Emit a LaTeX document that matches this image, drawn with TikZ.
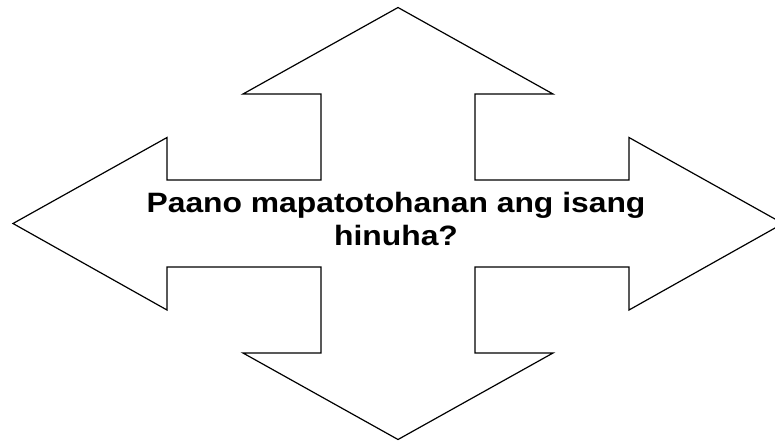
\documentclass[tikz,border=0pt]{standalone}
\usepackage{fontspec}
\setmainfont{Liberation Sans}[FakeStretch=1.137]
\usetikzlibrary{positioning}

\begin{document}
\begin{tikzpicture}[
    x=1pt, y=-1pt,
    crossarrow/.style={draw, line width=1.2pt, line join=miter, fill=white},
    fragetext/.style={align=center, font=\fontsize{28}{33.6}\selectfont\bfseries, inner sep=0pt}
]
    % Rahmen (Bildgroesse)
    \useasboundingbox (0,0) rectangle (775,440);

    % Vierfach-Pfeil
    \draw[crossarrow]
        (398,7.5) -- (553,94) -- (475,94) -- (475,180)
        -- (629,180) -- (629,137.5) -- (783,223.5) -- (629,310) -- (629,267) -- (475,267)
        -- (475,353) -- (553,353) -- (398,439.5) -- (243,353) -- (321,353) -- (321,267)
        -- (167,267) -- (167,310) -- (13,223.5) -- (167,137.5) -- (167,180) -- (321,180)
        -- (321,94) -- (243,94) -- cycle;

    % Text in der Mitte
    \node[fragetext] (frage) at (396,219) {Paano mapatotohanan ang isang\\hinuha?};
\end{tikzpicture}
\end{document}
